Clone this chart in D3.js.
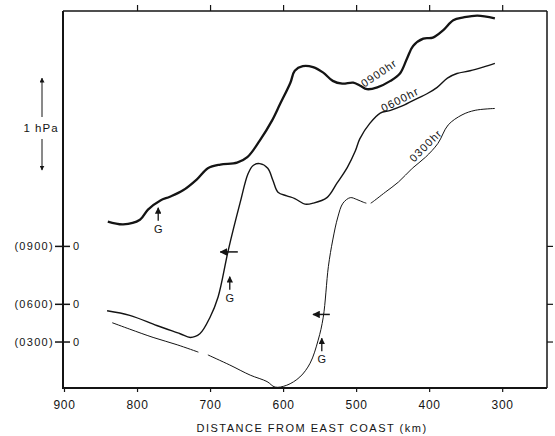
<!DOCTYPE html>
<html>
<head>
<meta charset="utf-8">
<script src="https://cdn.jsdelivr.net/npm/d3@7"></script>
<style>
  body { margin: 0; background: #fff; }
  svg { display: block; font-family: "Liberation Sans", Arial, sans-serif; }
</style>
</head>
<body>
<div id="chart"></div>
<script>
// DATA (distance from east coast in km, pressure in hPa relative to each trace's own zero)
// null = break in the trace
var km0900 = [840, 819, 796, 785, 768, 755, 737, 718, 703, 686, 663, 649, 632, 615, 604, 590, 584, 573, 559, 545, 532, 519, 504, 495, 485, 471, 453, 440, 430, 422, 408, 395, 381, 367, 353, 334, 310];
var hpa0900 = [0.27, 0.24, 0.29, 0.40, 0.50, 0.54, 0.61, 0.73, 0.85, 0.89, 0.91, 0.97, 1.15, 1.37, 1.55, 1.78, 1.91, 1.96, 1.95, 1.89, 1.80, 1.77, 1.78, 1.75, 1.71, 1.73, 1.80, 1.88, 2.05, 2.18, 2.26, 2.27, 2.35, 2.46, 2.49, 2.51, 2.48];

var km0600 = [841, 810, 773, 741, 727, 714, 700, 689, 675, 659, 648, 641, 632, 621, 614, 607, 595, 584, 570, 559, 540, 526, 512, 501, 495, 481, 467, 453, 436, 416, 403, 389, 375, 362, 344, 326, 310];
var hpa0600 = [-0.07, -0.12, -0.23, -0.32, -0.36, -0.32, -0.14, 0.08, 0.59, 1.10, 1.42, 1.51, 1.53, 1.48, 1.35, 1.22, 1.18, 1.15, 1.09, 1.10, 1.16, 1.32, 1.49, 1.67, 1.80, 1.97, 2.08, 2.11, 2.16, 2.24, 2.29, 2.36, 2.46, 2.51, 2.54, 2.58, 2.62];

var km0300 = [834, 810, 778, 745, 716, 710, 703, 673, 645, 622, 611, 595, 577, 563, 552, 545, 538, 532, 525, 518, 508, 499, 490, 486, 483, 480, 478, 460, 442, 423, 405, 388, 374, 355, 337, 310];
var hpa0300 = [0.21, 0.14, 0.05, -0.03, -0.11, null, -0.14, -0.25, -0.36, -0.43, -0.49, -0.47, -0.38, -0.23, 0.02, 0.27, 0.82, 1.11, 1.36, 1.51, 1.57, 1.55, 1.52, 1.51, null, 1.51, 1.52, 1.63, 1.74, 1.89, 2.01, 2.16, 2.36, 2.47, 2.52, 2.54];

// zero line of each trace, in hPa above the 0300 zero
var hours = ["0900", "0600", "0300"];
var zeroOffsets = [1.04, 0.41, 0];

var xTicks = [900, 800, 700, 600, 500, 400, 300];

// G marks: km and hPa (relative to the trace zero)
var gKm = [771, 673, 547];
var gHpa = [0.42, 0.30, 0.04];


// SVG
var width = 555, height = 436;
var svg = d3.select("#chart").append("svg")
    .attr("width", width)
    .attr("height", height);

svg.append("rect").attr("width", width).attr("height", height).attr("fill", "#fff");

var x = d3.scaleLinear().domain([900, 240]).range([64, 546]);
var y = d3.scaleLinear().domain([-0.5, 3.6]).range([388, 11]);

var frameL = 63, frameR = 547, frameT = 11, frameB = 388;
var ink = "#141414";

svg.append("defs").append("marker")
    .attr("id", "head")
    .attr("viewBox", "0 0 10 10")
    .attr("refX", 9).attr("refY", 5)
    .attr("markerWidth", 5).attr("markerHeight", 5)
    .attr("orient", "auto")
  .append("path")
    .attr("d", "M0,0 L10,5 L0,10 z")
    .attr("fill", ink);

// Frame
svg.append("line").attr("x1", frameL).attr("x2", frameL).attr("y1", frameT).attr("y2", frameB + 1)
    .attr("stroke", ink).attr("stroke-width", 2);
svg.append("line").attr("x1", frameL).attr("x2", frameR).attr("y1", frameB).attr("y2", frameB)
    .attr("stroke", ink).attr("stroke-width", 2);
svg.append("line").attr("x1", frameL).attr("x2", frameR).attr("y1", frameT).attr("y2", frameT)
    .attr("stroke", ink).attr("stroke-width", 1.5);
svg.append("line").attr("x1", frameR).attr("x2", frameR).attr("y1", frameT).attr("y2", frameB)
    .attr("stroke", ink).attr("stroke-width", 1.5);

// Bottom axis
var xAxis = svg.append("g")
    .attr("transform", "translate(0," + frameB + ")")
    .call(d3.axisBottom(x).tickValues(xTicks).tickSize(4).tickPadding(8));
xAxis.select(".domain").remove();
xAxis.selectAll("line").attr("stroke", ink).attr("stroke-width", 1.2);
xAxis.selectAll("text")
    .attr("fill", ink)
    .style("font-size", "12px")
    .style("letter-spacing", "0.7px")
    .style("font-family", "'Liberation Sans', Arial, sans-serif");

// Top ticks (pointing up)
var topAxis = svg.append("g")
    .attr("transform", "translate(0," + frameT + ")")
    .call(d3.axisTop(x).tickValues(xTicks.slice(1)).tickSize(6).tickFormat(""));
topAxis.select(".domain").remove();
topAxis.selectAll("line").attr("stroke", ink).attr("stroke-width", 1.2);

svg.append("text")
    .attr("x", 312).attr("y", 432)
    .attr("text-anchor", "middle")
    .attr("fill", ink)
    .style("font-size", "11px")
    .style("letter-spacing", "1.5px")
    .text("DISTANCE FROM EAST COAST (km)");

// Zero ticks on left and right
hours.forEach(function(h, i) {
    var yy = y(zeroOffsets[i]);
    svg.append("line").attr("x1", frameL - 8).attr("x2", frameL + 7).attr("y1", yy).attr("y2", yy)
        .attr("stroke", ink).attr("stroke-width", 1.5);
    svg.append("line").attr("x1", frameR).attr("x2", frameR + 6).attr("y1", yy).attr("y2", yy)
        .attr("stroke", ink).attr("stroke-width", 1.2);
    svg.append("text")
        .attr("x", 54).attr("y", yy + 4)
        .attr("text-anchor", "end")
        .attr("fill", ink)
        .style("font-size", "11px")
        .style("letter-spacing", "1.3px")
        .text("(" + h + ")");
    svg.append("text")
        .attr("x", 76).attr("y", yy + 4)
        .attr("text-anchor", "middle")
        .attr("fill", ink)
        .style("font-size", "11px")
        .text("0");
});

// 1 hPa scale bar
var barTop = y(2.87), barBottom = y(1.87);
svg.append("line").attr("x1", 42).attr("x2", 42).attr("y1", 117).attr("y2", barTop)
    .attr("stroke", ink).attr("stroke-width", 1).attr("marker-end", "url(#head)");
svg.append("line").attr("x1", 42).attr("x2", 42).attr("y1", 139).attr("y2", barBottom)
    .attr("stroke", ink).attr("stroke-width", 1).attr("marker-end", "url(#head)");
svg.append("text")
    .attr("x", 41).attr("y", 132)
    .attr("text-anchor", "middle")
    .attr("fill", ink)
    .style("font-size", "11.5px")
    .style("letter-spacing", "1px")
    .text("1 hPa");

// Traces
var traces = [
    { km: km0900, hpa: hpa0900, width: 2.3 },
    { km: km0600, hpa: hpa0600, width: 1.4 },
    { km: km0300, hpa: hpa0300, width: 1.0 }
];

traces.forEach(function(t, i) {
    var pts = t.km.map(function(d, j) { return [d, t.hpa[j]]; });
    svg.append("path")
        .datum(pts)
        .attr("fill", "none")
        .attr("stroke", ink)
        .attr("stroke-width", t.width)
        .attr("stroke-linejoin", "round")
        .attr("d", d3.line()
            .defined(d => d[1] !== null)
            .curve(d3.curveCatmullRom.alpha(0.5))
            .x(d => x(d[0]))
            .y(d => y(d[1] + zeroOffsets[i])));
});

// Curve labels, sitting on each trace
var labels = [
    { text: "0900hr", km: 465, hpa: 2.88, angle: -34 },
    { text: "0600hr", km: 437, hpa: 2.59, angle: -27 },
    { text: "0300hr", km: 400, hpa: 2.10, angle: -45 }
];
labels.forEach(function(l) {
    svg.append("text")
        .attr("transform", "translate(" + x(l.km) + "," + y(l.hpa) + ") rotate(" + l.angle + ")")
        .attr("text-anchor", "middle")
        .attr("dy", "-1")
        .attr("fill", ink)
        .style("font-size", "11px")
        .style("letter-spacing", "1.1px")
        .text(l.text);
});

// G markers
gKm.forEach(function(k, i) {
    var gx = x(k), gy = y(gHpa[i] + zeroOffsets[i]);
    svg.append("line").attr("x1", gx).attr("x2", gx).attr("y1", gy + 13).attr("y2", gy)
        .attr("stroke", ink).attr("stroke-width", 1.3).attr("marker-end", "url(#head)");
    svg.append("text")
        .attr("x", gx).attr("y", gy + 25)
        .attr("text-anchor", "middle")
        .attr("fill", ink)
        .style("font-size", "11px")
        .text("G");
});

// Motion arrows (pointing west, toward larger distance)
var arrowKm = [[662, 686], [536, 559]];
var arrowHpa = [0.57, 0.30];
var arrowTrace = [1, 2];
arrowKm.forEach(function(a, i) {
    var ay = y(arrowHpa[i] + zeroOffsets[arrowTrace[i]]);
    svg.append("line").attr("x1", x(a[0])).attr("x2", x(a[1])).attr("y1", ay).attr("y2", ay)
        .attr("stroke", ink).attr("stroke-width", 1.5).attr("marker-end", "url(#head)");
});
</script>
</body>
</html>
